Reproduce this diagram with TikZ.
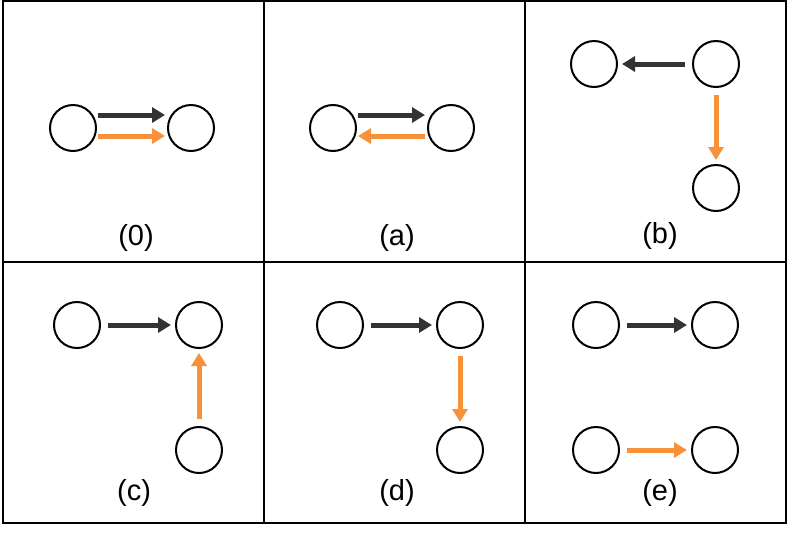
\documentclass[tikz,border=0pt]{standalone}
\usepackage{fontspec}
\setmainfont{Liberation Sans}
\usetikzlibrary{arrows.meta}
\definecolor{arrorange}{HTML}{F7923A}
\definecolor{arrblack}{HTML}{333333}
\tikzset{
  vert/.style={circle, draw, line width=2pt, minimum size=46pt, inner sep=0pt},
  barc/.style={-{Triangle[length=13pt,width=15pt]}, line width=5pt, arrblack, shorten >=4pt, shorten <=7pt},
  oarc/.style={-{Triangle[length=13pt,width=15pt]}, line width=5pt, arrorange, shorten >=4pt, shorten <=7pt},
  caption/.style={font=\fontsize{29}{34}\selectfont}
}
\begin{document}
\begin{tikzpicture}[x=1pt,y=-1pt]
\useasboundingbox (0,0) rectangle (789,539);
% frame
\draw[line width=1.5pt] (3,1) rectangle (786,523);
\draw[line width=1.5pt] (264,1) -- (264,523) (525,1) -- (525,523) (3,262) -- (786,262);
% (0)
\node[vert] (z1) at (73,128) {};
\node[vert] (z2) at (191,128) {};
\draw[barc, shorten <=0pt, shorten >=0pt] (98,115) -- (165,115);
\draw[oarc, shorten <=0pt, shorten >=0pt] (98,136) -- (165,136);
\node[caption] (l0) at (136,238) {(0)};
% (a)
\node[vert] (a1) at (333,128) {};
\node[vert] (a2) at (451,128) {};
\draw[barc, shorten <=0pt, shorten >=0pt] (358,115) -- (425,115);
\draw[oarc, shorten <=0pt, shorten >=0pt] (425,136) -- (358,136);
\node[caption] (la) at (397,238) {(a)};
% (b)
\node[vert] (b1) at (594,64) {};
\node[vert] (b2) at (716,64) {};
\node[vert] (b3) at (716,188) {};
\draw[barc] (b2) -- (b1);
\draw[oarc] (b2) -- (b3);
\node[caption] (lb) at (660,236) {(b)};
% (c)
\node[vert] (c1) at (77,325) {};
\node[vert] (c2) at (199,325) {};
\node[vert] (c3) at (199,450) {};
\draw[barc] (c1) -- (c2);
\draw[oarc] (c3) -- (c2);
\node[caption] (lc) at (134,493) {(c)};
% (d)
\node[vert] (d1) at (340,325) {};
\node[vert] (d2) at (460,325) {};
\node[vert] (d3) at (460,450) {};
\draw[barc] (d1) -- (d2);
\draw[oarc] (d2) -- (d3);
\node[caption] (ld) at (397,493) {(d)};
% (e)
\node[vert] (e1) at (596,325) {};
\node[vert] (e2) at (715,325) {};
\node[vert] (e3) at (596,450) {};
\node[vert] (e4) at (715,450) {};
\draw[barc] (e1) -- (e2);
\draw[oarc] (e3) -- (e4);
\node[caption] (le) at (660,493) {(e)};
\end{tikzpicture}
\end{document}
